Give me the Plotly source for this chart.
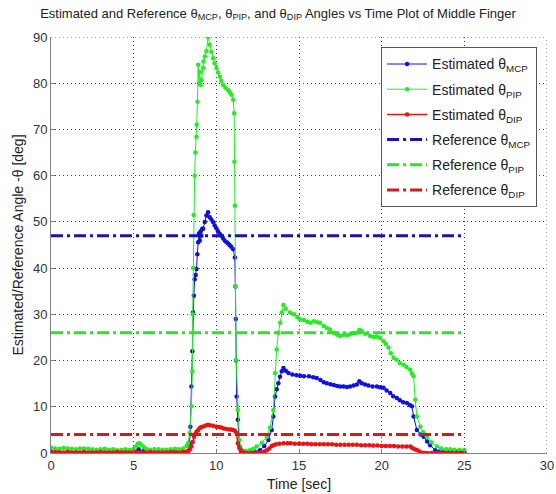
import plotly.graph_objects as go

# ---------------- data ----------------
t_mcp = [0, 0.5, 1, 1.5, 2, 2.5, 3, 3.5, 4, 4.5,
         5, 5.3, 5.6, 6, 6.5, 7, 7.5, 8, 8.3, 8.38,
         8.43, 8.49, 8.55, 8.59, 8.64, 8.69, 8.75, 8.8, 8.85, 8.9,
         8.95, 9.0, 9.05, 9.1, 9.15, 9.2, 9.3, 9.4, 9.5, 9.6,
         9.7, 9.81, 9.9, 10.0, 10.1, 10.21, 10.3, 10.4, 10.5, 10.62,
         10.72, 10.8, 10.9, 11.02, 11.12, 11.15, 11.18, 11.2, 11.23, 11.3,
         11.4, 11.5, 11.75, 12.0, 12.3, 12.64, 12.9, 13.15, 13.35, 13.45,
         13.55, 13.65, 13.75, 13.85, 13.96, 14.06, 14.2, 14.36, 14.6, 14.85,
         15.07, 15.3, 15.6, 15.85, 16.07, 16.3, 16.5, 16.68, 16.9, 17.1,
         17.3, 17.49, 17.7, 17.9, 18.09, 18.3, 18.5, 18.65, 18.8, 19.0,
         19.2, 19.45, 19.71, 19.9, 20.11, 20.3, 20.52, 20.7, 20.92, 21.1,
         21.3, 21.53, 21.7, 21.83, 21.93, 22.13, 22.35, 22.54, 22.75, 22.93,
         23.24, 23.5, 23.75, 24.0, 24.25, 24.5, 24.75, 25.0]
est_mcp = [0.3, 0.3, 0.3, 0.2, 0.2, 0.3, 0.2, 0.3, 0.2, 0.3,
           0.3, 0.8, 0.4, 0.3, 0.2, 0.3, 0.3, 0.3, 0.5, 2.0,
           5.7, 14.4, 22.0, 30.4, 34.0, 37.6, 38.5, 39.8, 43.0, 45.6,
           47.5, 46.0, 48.0, 47.0, 48.5, 48.5, 50.0, 51.4, 52.1, 51.0,
           50.5, 49.9, 49.2, 48.6, 48.0, 47.4, 47.0, 46.5, 46.0, 45.6,
           45.3, 45.0, 44.6, 44.1, 42.3, 36.0, 29.0, 20.0, 12.2, 7.2,
           1.4, 0.3, 0.2, 0.2, 0.3, 0.6, 1.5, 2.8, 5.0, 7.9,
           12.2, 13.8, 15.1, 16.5, 17.7, 18.4, 17.8, 17.3, 17.0, 16.8,
           16.7, 16.6, 16.6, 16.4, 16.2, 15.8, 15.3, 15.1, 14.9, 14.7,
           14.5, 14.4, 14.4, 14.3, 14.4, 14.6, 14.8, 15.5, 15.1, 14.8,
           14.6, 14.4, 14.4, 14.2, 14.1, 13.5, 13.0, 12.3, 11.9, 11.4,
           11.0, 10.8, 10.4, 10.1, 7.9, 5.0, 4.0, 3.5, 2.5, 1.7,
           0.6, 0.3, 0.2, 0.2, 0.2, 0.2, 0.2, 0.2]

t_pip = [0, 0.25, 0.5, 0.75, 1, 1.25, 1.5, 1.75, 2, 2.25,
         2.5, 2.75, 3, 3.25, 3.5, 3.75, 4, 4.25, 4.5, 4.75,
         5.0, 5.15, 5.25, 5.35, 5.45, 5.6, 5.75, 6.0, 6.25, 6.5,
         6.75, 7.0, 7.25, 7.5, 7.75, 8.0, 8.2, 8.29, 8.39, 8.49,
         8.55, 8.57, 8.6, 8.63, 8.69, 8.73, 8.8, 8.81, 8.86, 8.9,
         8.95, 9.0, 9.05, 9.1, 9.2, 9.22, 9.3, 9.4, 9.5, 9.6,
         9.7, 9.81, 9.9, 10.01, 10.1, 10.21, 10.3, 10.41, 10.55, 10.72,
         10.82, 10.92, 11.02, 11.08, 11.09, 11.12, 11.16, 11.2, 11.3, 11.4,
         11.5, 11.75, 12.03, 12.25, 12.44, 12.75, 13.05, 13.25, 13.45, 13.55,
         13.65, 13.75, 13.86, 13.96, 14.06, 14.2, 14.46, 14.7, 14.9, 15.07,
         15.3, 15.5, 15.68, 15.9, 16.1, 16.27, 16.5, 16.7, 16.88, 17.1,
         17.3, 17.49, 17.7, 17.9, 18.09, 18.3, 18.5, 18.65, 18.8, 19.0,
         19.3, 19.5, 19.7, 19.91, 20.11, 20.25, 20.41, 20.55, 20.72, 20.9,
         21.1, 21.33, 21.5, 21.73, 21.83, 21.93, 22.03, 22.13, 22.34, 22.5,
         22.73, 23.0, 23.34, 23.6, 23.9, 24.15, 24.4, 24.7, 25.0]
est_pip = [1.2, 1.0, 0.9, 1.1, 1.0, 0.9, 0.8, 1.0, 1.0, 0.9,
           0.8, 0.7, 0.8, 0.9, 0.7, 0.8, 0.6, 0.7, 0.8, 0.7,
           0.9, 1.4, 2.0, 2.1, 1.8, 1.3, 0.9, 0.7, 0.8, 0.8,
           0.7, 0.7, 0.8, 0.9, 0.8, 1.0, 1.5, 2.1, 4.3, 10.1,
           17.7, 30.0, 40.0, 51.5, 60.0, 65.0, 68.4, 71.0, 76.0, 84.0,
           80.0, 82.5, 79.6, 80.7, 83.3, 84.7, 85.8, 86.9, 90.0, 88.3,
           86.8, 85.4, 84.3, 83.3, 82.3, 81.4, 80.5, 79.6, 79.0, 78.5,
           78.0, 77.5, 76.4, 73.5, 63.0, 53.5, 36.0, 20.2, 9.3, 2.8,
           0.8, 0.5, 0.6, 0.9, 1.4, 2.2, 3.5, 5.5, 9.3, 17.3,
           22.4, 26.0, 28.2, 30.4, 32.0, 31.2, 30.4, 30.0, 29.4, 28.9,
           28.8, 28.4, 28.2, 28.5, 28.3, 28.2, 27.5, 27.0, 26.7, 26.0,
           25.6, 25.3, 25.6, 25.5, 25.7, 25.9, 26.0, 26.6, 26.4, 25.8,
           25.3, 25.1, 25.2, 24.9, 24.2, 23.6, 22.8, 21.6, 20.6, 20.2,
           19.4, 19.1, 18.6, 18.0, 17.2, 16.6, 11.5, 7.9, 5.7, 4.5,
           3.5, 2.3, 1.4, 1.0, 0.8, 0.8, 0.7, 0.7, 0.65]

t_dip = [0, 0.25, 0.5, 0.75, 1, 1.25, 1.5, 1.75, 2, 2.25,
         2.5, 2.75, 3, 3.25, 3.5, 3.75, 4, 4.25, 4.5, 4.75,
         5, 5.25, 5.5, 5.75, 6, 6.25, 6.5, 6.75, 7, 7.25,
         7.5, 7.75, 8, 8.2, 8.3, 8.4, 8.49, 8.57, 8.65, 8.72,
         8.8, 8.9, 9.0, 9.1, 9.25, 9.4, 9.5, 9.6, 9.8, 10.0,
         10.15, 10.3, 10.45, 10.62, 10.8, 10.9, 11.02, 11.12, 11.22, 11.3,
         11.4, 11.5, 11.6, 11.7, 11.9, 12.1, 12.3, 12.5, 12.7, 12.9,
         13.05, 13.2, 13.35, 13.45, 13.6, 13.8, 14.06, 14.3, 14.5, 14.75,
         15, 15.25, 15.5, 15.75, 16, 16.25, 16.5, 16.75, 17, 17.25,
         17.5, 17.75, 18, 18.25, 18.5, 18.75, 19, 19.25, 19.5, 19.75,
         20, 20.25, 20.5, 20.75, 21, 21.25, 21.5, 21.73, 21.85, 22.0,
         22.13, 22.3, 22.54, 22.75, 23.0, 23.25, 23.5, 23.75, 24, 24.25,
         24.5, 24.75, 25]
est_dip = [0.1, 0.2, 0.1, 0.1, 0.2, 0.1, 0.1, 0.1, 0.2, 0.1,
           0.1, 0.1, 0.2, 0.1, 0.1, 0.1, 0.2, 0.1, 0.1, 0.1,
           0.2, 0.1, 0.1, 0.1, 0.2, 0.1, 0.1, 0.1, 0.1, 0.2,
           0.1, 0.1, 0.2, 0.2, 0.3, 0.8, 1.4, 2.4, 3.5, 4.1,
           4.6, 5.0, 5.4, 5.6, 5.8, 6.0, 6.1, 6.0, 5.9, 5.7,
           5.6, 5.5, 5.3, 5.2, 5.1, 5.1, 5.0, 4.8, 4.3, 2.1,
           1.0, 0.5, 0.2, 0.0, 0.0, 0.0, 0.0, 0.0, 0.1, 0.3,
           0.6, 1.0, 1.5, 1.7, 1.9, 2.0, 2.1, 2.1, 2.1, 2.0,
           2.0, 2.0, 2.0, 1.9, 1.9, 1.9, 1.9, 1.9, 1.9, 1.8,
           1.8, 1.8, 1.8, 1.8, 1.8, 1.7, 1.7, 1.7, 1.6, 1.6,
           1.5, 1.5, 1.5, 1.5, 1.4, 1.4, 1.4, 1.4, 1.1, 0.8,
           0.65, 0.3, 0.07, 0.0, 0.0, 0.0, 0.0, 0.0, 0.0, 0.0,
           0.0, 0.0, 0.0]

t_ref = [0, 25]
ref_mcp = [47, 47]
ref_pip = [26, 26]
ref_dip = [4, 4]

x_ticks = [0, 5, 10, 15, 20, 25, 30]
y_ticks = [0, 10, 20, 30, 40, 50, 60, 70, 80, 90]
x_range = [0, 30]
y_range = [0, 90]

assert len(t_mcp) == len(est_mcp)
assert len(t_pip) == len(est_pip)
assert len(t_dip) == len(est_dip)

# ---------------- figure ----------------
FONT = "Arial, Liberation Sans, sans-serif"
fig = go.Figure()

fig.add_trace(go.Scatter(x=t_mcp, y=est_mcp, name="Estimated θ<sub>MCP</sub>",
                         line=dict(color="#1010e0", width=1),
                         marker=dict(color="#1010e0", size=4.5), mode="lines+markers",
                         legendgroup="a"))
fig.add_trace(go.Scatter(x=t_pip, y=est_pip, name="Estimated θ<sub>PIP</sub>",
                         line=dict(color="#22ee22", width=1),
                         marker=dict(color="#22ee22", size=4.5), mode="lines+markers",
                         legendgroup="b"))
fig.add_trace(go.Scatter(x=t_dip, y=est_dip, name="Estimated θ<sub>DIP</sub>",
                         line=dict(color="#ee1111", width=1.5),
                         marker=dict(color="#ee1111", size=4.5), mode="lines+markers",
                         legendgroup="c"))

DASH = "12px,4px,3px,4px"
fig.add_trace(go.Scatter(x=t_ref, y=ref_mcp, name="Reference θ<sub>MCP</sub>", mode="lines",
                         line=dict(color="#1515b0", width=3, dash=DASH), legendgroup="d"))
fig.add_trace(go.Scatter(x=t_ref, y=ref_pip, name="Reference θ<sub>PIP</sub>", mode="lines",
                         line=dict(color="#33dd33", width=3, dash=DASH), legendgroup="e"))
fig.add_trace(go.Scatter(x=t_ref, y=ref_dip, name="Reference θ<sub>DIP</sub>", mode="lines",
                         line=dict(color="#d01c1c", width=3, dash=DASH), legendgroup="f"))

GRID_DASH = "1px,3px"
axis_common = dict(
    showline=True, linecolor="#808080", linewidth=1, mirror=False,
    ticks="inside", ticklen=4, tickcolor="#808080",
    showgrid=True, gridcolor="#444444", gridwidth=1, griddash=GRID_DASH,
    zeroline=False, automargin=False,
    tickfont=dict(family=FONT, size=13, color="#333333"),
)

# dotted top and right frame edges (gridlines at the range limits)
fig.add_shape(type="line", xref="x", yref="y", x0=x_range[0], x1=x_range[1],
              y0=y_range[1], y1=y_range[1], layer="below",
              line=dict(color="#444444", width=1, dash=GRID_DASH))
fig.add_shape(type="line", xref="x", yref="y", x0=x_range[1], x1=x_range[1],
              y0=y_range[0], y1=y_range[1], layer="below",
              line=dict(color="#444444", width=1, dash=GRID_DASH))

fig.update_layout(
    width=556, height=494,
    margin=dict(l=51, r=9, t=37, b=41),
    paper_bgcolor="white", plot_bgcolor="white",
    font=dict(family=FONT, size=12, color="#222222"),
    title=dict(text="Estimated and Reference θ<sub>MCP</sub>, θ<sub>PIP</sub>, and θ<sub>DIP</sub> Angles vs Time Plot of Middle Finger",
               x=0.5, xanchor="center", y=1 - 13 / 494, yanchor="middle",
               font=dict(family=FONT, size=13, color="#222222")),
    xaxis=dict(range=x_range, tickvals=x_ticks, ticktext=[str(v) for v in x_ticks],
               title=dict(text="Time [sec]", font=dict(family=FONT, size=14), standoff=7),
               **axis_common),
    yaxis=dict(range=y_range, tickvals=y_ticks, ticktext=[str(v) for v in y_ticks],
               title=dict(text="Estimated/Reference Angle -θ [deg]",
                          font=dict(family=FONT, size=14), standoff=6),
               **axis_common),
    legend=dict(x=0.98, xanchor="right", y=0.975, yanchor="top",
                bgcolor="white", bordercolor="#555555", borderwidth=1,
                font=dict(family=FONT, size=14, color="#222222"),
                tracegroupgap=4, itemwidth=40),
    showlegend=True,
)

fig.write_html("out.html")
